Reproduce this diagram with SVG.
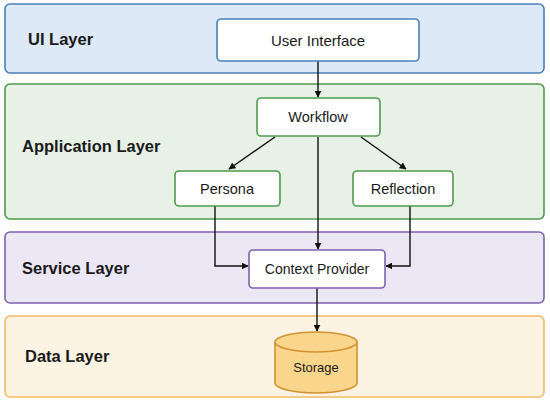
<svg xmlns="http://www.w3.org/2000/svg" width="550" height="403" viewBox="0 0 550 403">
<style>
.layer{stroke-width:1.6}
.lbl{font-family:"Liberation Sans",Arial,sans-serif;font-weight:bold;font-size:16.5px;fill:#1a1a1a}
.nt{font-family:"Liberation Sans",Arial,sans-serif;font-size:14px;fill:#1a1a1a;text-anchor:middle;dominant-baseline:central}
.node{fill:#ffffff;stroke-width:1.6}
.con{fill:none;stroke:#111;stroke-width:1.4;marker-end:url(#ah)}
</style>
<defs>
<marker id="ah" viewBox="0 0 10 10" refX="9" refY="5" markerWidth="7" markerHeight="7" orient="auto" markerUnits="userSpaceOnUse">
<path d="M0,0 L10,5 L0,10 z" fill="#111"/>
</marker>
</defs>
<rect width="550" height="403" fill="#ffffff"/>
<g id="ui-layer">
<rect class="layer" x="5" y="4" width="539" height="69" rx="5" fill="#dde9f6" stroke="#4a80b8"/>
<text class="lbl" x="28" y="45">UI Layer</text>
</g>
<g id="app-layer">
<rect class="layer" x="5" y="84" width="539" height="135" rx="5" fill="#e7f1e5" stroke="#4e9a4c"/>
<text class="lbl" x="22" y="152">Application Layer</text>
</g>
<g id="service-layer">
<rect class="layer" x="5" y="232" width="539" height="71" rx="5" fill="#ece7f4" stroke="#7d62b0"/>
<text class="lbl" x="22" y="274">Service Layer</text>
</g>
<g id="data-layer">
<rect class="layer" x="5" y="316" width="539" height="81" rx="5" fill="#fdf3e2" stroke="#f1bb66"/>
<text class="lbl" x="25" y="362">Data Layer</text>
</g>
<g id="connectors">
<line class="con" x1="318" y1="61" x2="318" y2="97"/>
<line class="con" x1="275" y1="137" x2="229" y2="169"/>
<line class="con" x1="361" y1="137" x2="406" y2="169"/>
<line class="con" x1="318" y1="137" x2="318" y2="249"/>
<polyline class="con" points="215,206 215,266 248,266"/>
<polyline class="con" points="410,206 410,266 386,266"/>
<line class="con" x1="317" y1="288" x2="317" y2="331"/>
</g>
<g id="user-interface">
<rect class="node" x="217" y="19" width="202" height="42" rx="4" stroke="#4a80b8"/>
<text class="nt" x="318" y="40" style="font-size:15px">User Interface</text>
</g>
<g id="workflow">
<rect class="node" x="257" y="98" width="123" height="38" rx="4" stroke="#4e9a4c"/>
<text class="nt" x="318" y="117" style="font-size:14.5px">Workflow</text>
</g>
<g id="persona">
<rect class="node" x="175" y="171" width="105" height="35" rx="4" stroke="#4e9a4c"/>
<text class="nt" x="227" y="189" style="font-size:14.5px">Persona</text>
</g>
<g id="reflection">
<rect class="node" x="353" y="171" width="100" height="35" rx="4" stroke="#4e9a4c"/>
<text class="nt" x="403" y="189" style="font-size:14.5px">Reflection</text>
</g>
<g id="context-provider">
<rect class="node" x="249" y="250" width="136" height="38" rx="4" stroke="#7d62b0"/>
<text class="nt" x="317" y="269">Context Provider</text>
</g>
<g id="storage">
<path d="M275,342 L275,383 A41,10 0 0 0 357,383 L357,342" fill="#f9d68c" stroke="#d3922f" stroke-width="1.6"/>
<ellipse cx="316" cy="342" rx="41" ry="10" fill="#f9d68c" stroke="#d3922f" stroke-width="1.6"/>
<text class="nt" x="316" y="367" style="font-size:13px">Storage</text>
</g>
</svg>
